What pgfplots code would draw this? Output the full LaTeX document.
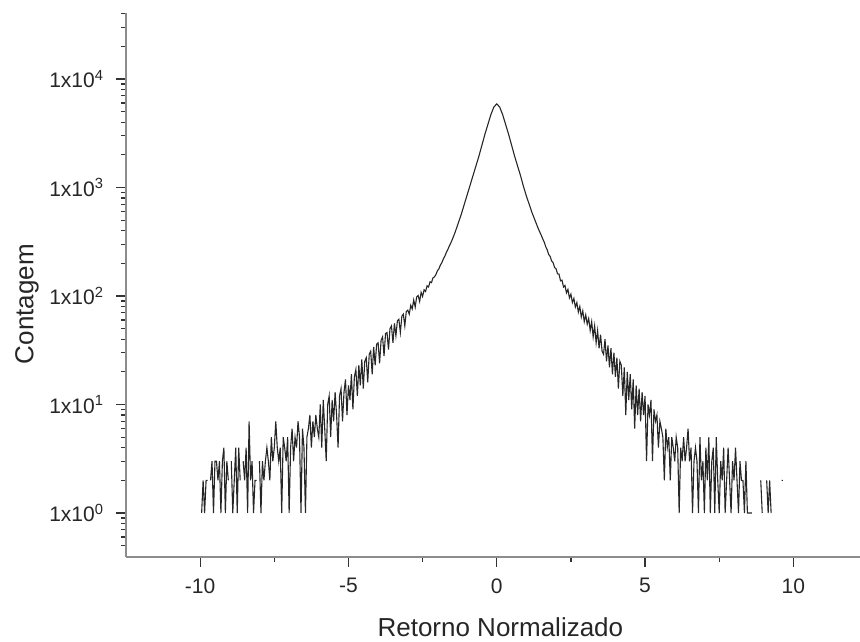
\documentclass[border=0pt]{standalone}
\usepackage{fontspec}
\setmainfont{Liberation Sans}
\usepackage{pgfplots}
\pgfplotsset{compat=1.18}
\begin{document}
\begin{tikzpicture}
\begin{axis}[
  at={(126pt,84pt)}, anchor=south west,
  scale only axis, width=734.1pt, height=544pt,
  xmin=-12.5, xmax=12.25, ymin=0.393, ymax=40560,
  ymode=log,
  axis x line=bottom, axis y line=left,
  axis line style={-, draw=black!45, line width=1.8pt},
  tick align=outside,
  major tick length=10pt, minor tick length=5pt,
  tick style={draw=black!80, line width=1.2pt},
  xtick={-10,-5,0,5,10}, xticklabels={-10,-5,0,5,10},
  minor xtick={-7.5,-2.5,2.5,7.5},
  ytick={1,10,100,1000,10000},
  yticklabels={1x10\textsuperscript{0},1x10\textsuperscript{1},1x10\textsuperscript{2},1x10\textsuperscript{3},1x10\textsuperscript{4}},
  minor ytick={0.5,0.6,0.7,0.8,0.9,2,3,4,5,6,7,8,9,20,30,40,50,60,70,80,90,200,300,400,500,600,700,800,900,2000,3000,4000,5000,6000,7000,8000,9000,20000,30000,40000},
  ticklabel style={font=\fontsize{21}{25}\selectfont, text=black!85},
  yticklabel style={xshift=-9pt},
  xticklabel style={yshift=-8pt},
  xlabel={Retorno Normalizado}, ylabel={Contagem},
  label style={font=\fontsize{26}{31}\selectfont, text=black!85},
  xlabel style={at={(axis description cs:0.51,-0.129)}, anchor=center},
  ylabel style={at={(axis description cs:-0.135,0.465)}, anchor=center},
  unbounded coords=jump,
]
\addplot[black!85, line width=1.1pt] table[x=x, y=y] {
x y
-9.95 1
-9.90 2
-9.85 1
-9.80 2
-9.75 2
-9.70 nan
-9.65 2
-9.60 3
-9.55 1
-9.50 3
-9.45 3
-9.40 2
-9.35 3
-9.30 1
-9.25 3
-9.20 4
-9.15 1
-9.10 3
-9.05 2
-9.00 nan
-8.95 3
-8.90 1
-8.85 2
-8.80 4
-8.75 1
-8.70 4
-8.65 2
-8.60 nan
-8.55 3
-8.50 2
-8.45 4
-8.40 1
-8.35 7
-8.30 2
-8.25 3
-8.20 1
-8.15 2
-8.10 2
-8.05 nan
-8.00 3
-7.95 1
-7.90 3
-7.85 2
-7.80 3
-7.75 4
-7.70 3
-7.65 2
-7.60 5
-7.55 3
-7.50 4
-7.45 7
-7.40 4
-7.35 3
-7.30 4
-7.25 1
-7.20 5
-7.15 4
-7.10 3
-7.05 5
-7.00 1
-6.95 4
-6.90 6
-6.85 3
-6.80 5
-6.75 4
-6.70 7
-6.65 5
-6.60 1
-6.55 6
-6.50 4
-6.45 1
-6.40 5
-6.35 6
-6.30 8
-6.25 4
-6.20 7
-6.15 5
-6.10 8
-6.05 6
-6.00 5
-5.95 10
-5.90 4
-5.85 11
-5.80 6
-5.75 3
-5.70 10
-5.65 12
-5.60 5
-5.55 11
-5.50 7
-5.45 13
-5.40 8
-5.35 4
-5.30 12
-5.25 14
-5.20 7
-5.15 13
-5.10 17
-5.05 8
-5.00 15
-4.95 11
-4.90 19
-4.85 9
-4.80 18
-4.75 21
-4.70 12
-4.65 23
-4.60 15
-4.55 26
-4.50 14
-4.45 25
-4.40 27
-4.35 16
-4.30 29
-4.25 31
-4.20 19
-4.15 34
-4.10 23
-4.05 36
-4.00 37
-3.95 24
-3.90 39
-3.85 42
-3.80 28
-3.75 45
-3.70 46
-3.65 32
-3.60 50
-3.55 53
-3.50 37
-3.45 56
-3.40 43
-3.35 59
-3.30 61
-3.25 46
-3.20 65
-3.15 68
-3.10 53
-3.05 72
-3.00 74
-2.95 68
-2.90 82
-2.85 76
-2.80 92
-2.75 79
-2.70 98
-2.65 101
-2.60 89
-2.55 108
-2.50 99
-2.45 114
-2.40 110
-2.35 124
-2.30 121
-2.25 135
-2.20 133
-2.15 147
-2.10 150
-2.05 158
-2.00 171
-1.95 178
-1.90 193
-1.85 203
-1.80 220
-1.75 233
-1.70 252
-1.65 268
-1.60 289
-1.55 308
-1.50 331
-1.40 389
-1.30 468
-1.20 562
-1.10 692
-1.00 851
-0.90 1047
-0.80 1290
-0.70 1585
-0.60 1950
-0.50 2455
-0.40 3090
-0.30 3800
-0.20 4680
-0.10 5500
0.00 5900
0.10 5500
0.20 4680
0.30 3800
0.40 3090
0.50 2455
0.60 1950
0.70 1585
0.80 1290
0.90 1023
1.00 832
1.10 692
1.20 575
1.30 490
1.40 417
1.50 363
1.55 336
1.60 314
1.65 285
1.70 267
1.75 241
1.80 232
1.85 210
1.90 203
1.95 183
2.00 178
2.05 160
2.10 159
2.15 138
2.20 140
2.25 121
2.30 125
2.35 107
2.40 115
2.45 96
2.50 104
2.55 87
2.60 95
2.65 79
2.70 87
2.75 71
2.80 80
2.85 64
2.90 73
2.95 58
3.00 67
3.05 55
3.10 62
3.15 48
3.20 58
3.25 42
3.30 53
3.35 37
3.40 48
3.45 33
3.50 44
3.55 31
3.60 29
3.65 40
3.70 25
3.75 35
3.80 22
3.85 33
3.90 19
3.95 30
4.00 18
4.05 27
4.10 14
4.15 25
4.20 23
4.25 12
4.30 22
4.35 8
4.40 20
4.45 11
4.50 19
4.55 9
4.60 17
4.65 6
4.70 15
4.75 8
4.80 14
4.85 7
4.90 13
4.95 8
5.00 12
5.05 3
5.10 10
5.15 8
5.20 11
5.25 3
5.30 9
5.35 7
5.40 8
5.45 4
5.50 7
5.55 6
5.60 5
5.65 2
5.70 6
5.75 4
5.80 5
5.85 2
5.90 5
5.95 4
6.00 3
6.05 5
6.10 4
6.15 1
6.20 4
6.25 3
6.30 5
6.35 3
6.40 4
6.45 6
6.50 3
6.55 4
6.60 1
6.65 3
6.70 4
6.75 3
6.80 1
6.85 5
6.90 2
6.95 3
7.00 1
7.05 4
7.10 2
7.15 5
7.20 1
7.25 3
7.30 4
7.35 1
7.40 5
7.45 2
7.50 1
7.55 3
7.60 2
7.65 4
7.70 1
7.75 2
7.80 4
7.85 2
7.90 1
7.95 3
8.00 2
8.05 4
8.10 2
8.15 1
8.20 3
8.25 2
8.30 2
8.35 1
8.40 3
8.45 1
8.50 1
8.55 1
8.60 1
8.65 nan
8.90 2
8.95 1
9.00 nan
9.10 2
9.15 1
9.20 2
9.25 1
9.30 nan
9.60 2
9.65 2
};
\end{axis}
\pgfresetboundingbox
\path[use as bounding box] (0,0) rectangle (860pt,641pt);
\end{tikzpicture}
\end{document}
